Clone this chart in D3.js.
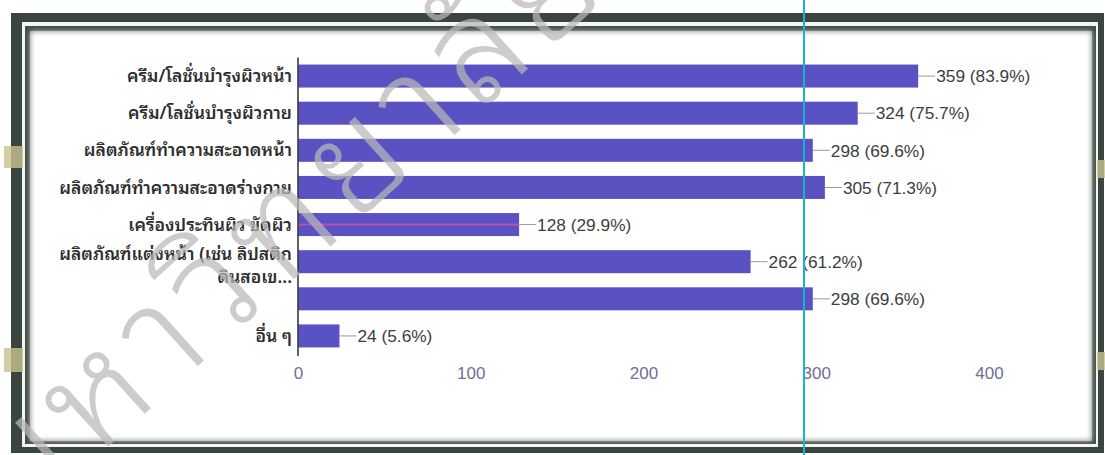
<!DOCTYPE html>
<html>
<head>
<meta charset="utf-8">
<script src="https://cdn.jsdelivr.net/npm/d3@7"></script>
<style>
  html, body { margin: 0; padding: 0; background: #ffffff; }
  svg { display: block; }
</style>
</head>
<body>
<svg id="chart" width="1105" height="455"></svg>
<script>
// Survey answers: product types used (n = 428)
const categories = [
  "ครีม/โลชั่นบำรุงผิวหน้า",
  "ครีม/โลชั่นบำรุงผิวกาย",
  "ผลิตภัณฑ์ทำความสะอาดหน้า",
  "ผลิตภัณฑ์ทำความสะอาดร่างกาย",
  "เครื่องประทินผิว ขัดผิว",
  "ผลิตภัณฑ์แต่งหน้า (เช่น ลิปสติก|ดินสอเข...",
  "",
  "อื่น ๆ"
];
const counts = [359, 324, 298, 305, 128, 262, 298, 24];
const percents = ["83.9%", "75.7%", "69.6%", "71.3%", "29.9%", "61.2%", "69.6%", "5.6%"];
const tickValues = [0, 100, 200, 300, 400];

const thaiFont = "'Noto Sans Thai Looped', 'Noto Sans Thai', 'Tahoma', 'Noto Sans', sans-serif";
const latinFont = "'Liberation Sans', Arial, sans-serif";

const svg = d3.select("#chart");

// ---- page frame ----
const defs = svg.append("defs");
const shade = defs.append("filter").attr("id", "innerShade")
  .attr("x", "-5%").attr("y", "-5%").attr("width", "110%").attr("height", "110%");
shade.append("feGaussianBlur").attr("stdDeviation", 2.5);

svg.append("rect").attr("x", 11).attr("y", 13).attr("width", 1093).attr("height", 440)
  .attr("fill", "#3b4540");
svg.append("rect").attr("x", 22).attr("y", 22).attr("width", 1076).attr("height", 425)
  .attr("fill", "#f4f4f0");
svg.append("rect").attr("x", 25).attr("y", 26).attr("width", 1071).attr("height", 418)
  .attr("fill", "#46504b");
svg.append("rect").attr("x", 30).attr("y", 31).attr("width", 1062).attr("height", 410)
  .attr("fill", "#9aa09c");
svg.append("rect").attr("x", 31).attr("y", 32).attr("width", 1060).attr("height", 408)
  .attr("fill", "#ffffff").attr("filter", "url(#innerShade)");

// small brass clips on the frame
[[4, 146, 19, 22], [4, 348, 19, 24], [1097, 160, 8, 18], [1097, 352, 8, 18]].forEach(([x, y, w, h]) => {
  svg.append("rect").attr("x", x).attr("y", y).attr("width", w).attr("height", h)
    .attr("fill", "#c9c28e").attr("opacity", 0.8);
});

// ---- chart ----
const x = d3.scaleLinear().domain([0, 400]).range([298, 989]);
const y = d3.scaleBand().domain(d3.range(categories.length))
  .range([57.5, 354.5]).paddingInner(0.38).paddingOuter(0.19);

const g = svg.append("g");

// bars
g.selectAll("rect.bar").data(counts).join("rect")
  .attr("class", "bar")
  .attr("x", x(0))
  .attr("y", (d, i) => y(i))
  .attr("width", d => x(d) - x(0))
  .attr("height", y.bandwidth())
  .attr("fill", "#5a51c2");

// thin magenta streak along the fifth bar
g.append("line")
  .attr("x1", x(0)).attr("x2", x(counts[4]))
  .attr("y1", y(4) + y.bandwidth() / 2).attr("y2", y(4) + y.bandwidth() / 2)
  .attr("stroke", "#d04fae").attr("stroke-width", 2).attr("opacity", 0.85);

// leader lines and value labels
counts.forEach((d, i) => {
  const cy = y(i) + y.bandwidth() / 2;
  g.append("line")
    .attr("x1", x(d)).attr("x2", x(d) + 17)
    .attr("y1", cy).attr("y2", cy)
    .attr("stroke", "#9a9a9a").attr("stroke-width", 1);
  g.append("text")
    .attr("x", x(d) + 18).attr("y", cy)
    .attr("dy", "0.36em")
    .attr("font-family", latinFont).attr("font-size", 17.3)
    .attr("fill", "#3d3d3d")
    .text(`${d} (${percents[i]})`);
});

// category labels
categories.forEach((c, i) => {
  if (!c) return;
  const lines = c.split("|");
  const cy = y(i) + y.bandwidth() / 2 + (lines.length > 1 ? 4 : 0);
  const t = g.append("text")
    .attr("x", 292)
    .attr("text-anchor", "end")
    .attr("font-family", thaiFont).attr("font-size", 17.5).attr("font-weight", 600)
    .attr("fill", "#2e2e2e");
  lines.forEach((ln, k) => {
    t.append("tspan")
      .attr("x", 292)
      .attr("y", cy + (k - (lines.length - 1) / 2) * 23)
      .attr("dy", "0.35em")
      .text(ln);
  });
});

// axes
const xAxis = d3.axisBottom(x).tickValues(tickValues).tickSize(0).tickPadding(0);
const ax = g.append("g").attr("transform", "translate(0,367)").call(xAxis);
ax.select(".domain").remove();
ax.selectAll("text")
  .attr("font-family", latinFont).attr("font-size", 17)
  .attr("fill", "#6f6f92").attr("dy", "0.72em");

g.append("line")
  .attr("x1", x(0)).attr("x2", x(0))
  .attr("y1", 57.5).attr("y2", 356)
  .attr("stroke", "#3a3a3a").attr("stroke-width", 1.6);

// ---- institutional watermark ----
svg.append("text")
  .attr("transform", "translate(18,528) rotate(-42)")
  .attr("font-family", thaiFont).attr("font-size", 145).attr("font-weight", 330)
  .attr("letter-spacing", 10)
  .attr("fill", "#b9b9b9").attr("opacity", 0.72)
  .text("มหาวิทยาลัยศิลปากร");

// ---- guide line ----
svg.append("line")
  .attr("x1", 804).attr("x2", 804).attr("y1", 0).attr("y2", 455)
  .attr("stroke", "#1cb4c8").attr("stroke-width", 2);
</script>
</body>
</html>
